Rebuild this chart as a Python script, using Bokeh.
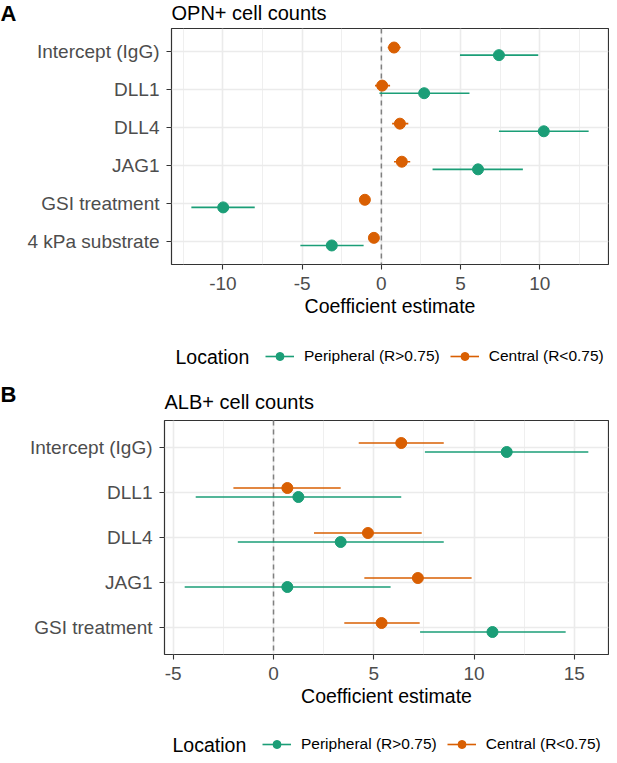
import numpy as np
from bokeh.plotting import figure
from bokeh.models import (Range1d, FixedTicker, Span, Label, Legend, LegendItem,
                          ColumnDataSource)
from bokeh.layouts import column
from bokeh.embed import file_html
from bokeh.resources import INLINE

# ---------------- data ----------------
# Panel A: OPN+ cell counts (categories listed top to bottom)
cats_a = ["Intercept (IgG)", "DLL1", "DLL4", "JAG1", "GSI treatment", "4 kPa substrate"]
periph_est_a = [7.42, 2.70, 10.25, 6.10, -9.98, -3.13]
periph_lo_a = [4.96, -0.12, 7.42, 3.23, -11.99, -5.11]
periph_hi_a = [9.90, 5.56, 13.08, 8.93, -7.99, -1.12]
central_est_a = [0.80, 0.05, 1.17, 1.29, -1.04, -0.47]
central_lo_a = [0.40, -0.40, 0.68, 0.80, -1.25, -0.72]
central_hi_a = [1.22, 0.55, 1.70, 1.82, -0.82, -0.22]
xticks_a = [-10, -5, 0, 5, 10]
xtick_labels_a = ["-10", "-5", "0", "5", "10"]

# Panel B: ALB+ cell counts
cats_b = ["Intercept (IgG)", "DLL1", "DLL4", "JAG1", "GSI treatment"]
periph_est_b = [11.63, 1.24, 3.35, 0.69, 10.92]
periph_lo_b = [7.55, -3.88, -1.78, -4.43, 7.31]
periph_hi_b = [15.70, 6.37, 8.49, 5.84, 14.57]
central_est_b = [6.37, 0.69, 4.71, 7.20, 5.39]
central_lo_b = [4.25, -2.00, 2.02, 4.53, 3.53]
central_hi_b = [8.49, 3.35, 7.39, 9.88, 7.29]
xticks_b = [-5, 0, 5, 10, 15]
xtick_labels_b = ["-5", "0", "5", "10", "15"]

ref_x = 0
series_names = ["Peripheral (R>0.75)", "Central (R<0.75)"]
legend_title = "Location"
x_title = "Coefficient estimate"

GREEN = "#1B9E77"
ORANGE = "#D95F02"
FONT = "Liberation Sans"
GRID = "#EBEBEB"
DARK = "#333333"
TXT = "#4D4D4D"
W = 609


def no_align(f):
    if "frame_align" in f.properties():
        f.frame_align = False


def blank_fig(h):
    f = figure(width=W, height=h, title=None, x_range=Range1d(1000, 1001),
               y_range=Range1d(1000, 1001), x_axis_location=None,
               y_axis_location=None, output_backend="svg", toolbar_location=None,
               min_border=0)
    f.outline_line_color = None
    f.grid.visible = False
    f.background_fill_color = "white"
    f.border_fill_color = "white"
    no_align(f)
    return f


def header(h, letter, letter_y, title, title_x, title_y):
    f = blank_fig(h)
    f.add_layout(Label(x=0, y=letter_y, x_units="screen", y_units="screen",
                       text=letter, text_font=FONT, text_font_size="22px",
                       text_font_style="bold", text_baseline="middle",
                       text_align="left", text_color="black"))
    f.add_layout(Label(x=title_x, y=title_y, x_units="screen", y_units="screen",
                       text=title, text_font=FONT, text_font_size="20px",
                       text_baseline="middle", text_align="left", text_color="black"))
    return f


def series_list(pe, pl, ph, ce, cl, ch):
    return [(series_names[0], pe, pl, ph, GREEN, -0.1),
            (series_names[1], ce, cl, ch, ORANGE, 0.1)]


def legend_fig(h, series, pos, leg_x, leg_y, loc_x):
    f = blank_fig(h)
    items = []
    for name, est, l, hi, col, off in series:
        src = ColumnDataSource(dict(y=pos + off, est=est, lo=l, hi=hi))
        seg = f.segment(x0="lo", y0="y", x1="hi", y1="y", source=src,
                        line_color=col, line_width=1.6)
        sc = f.scatter(x="est", y="y", source=src, size=11,
                       fill_color=col, line_color=col)
        items.append(LegendItem(label=name, renderers=[seg, sc]))
    leg = Legend(items=items, location=(leg_x, leg_y), orientation="horizontal",
                 glyph_width=29, glyph_height=20, label_height=20,
                 label_standoff=10, spacing=10, padding=0, margin=0,
                 label_text_font=FONT, label_text_font_size="15.5px",
                 label_text_color="black", border_line_color=None,
                 background_fill_alpha=0)
    f.add_layout(leg)
    f.add_layout(Label(x=loc_x, y=leg_y + 10, x_units="screen", y_units="screen",
                       text=legend_title, text_font=FONT, text_font_size="19.5px",
                       text_baseline="middle", text_align="left", text_color="black"))
    return f


def main_fig(cats, series, xticks, xlabels, frame_left, frame_h, bottom):
    n = len(cats)
    allv = np.array([v for s in series for v in (s[1] + s[2] + s[3])], dtype=float)
    lo, hi = allv.min(), allv.max()
    pad = 0.05 * (hi - lo)
    pos = np.arange(n, 0, -1)
    p = figure(width=W, height=1 + frame_h + bottom, title=None,
               x_range=Range1d(lo - pad, hi + pad), y_range=Range1d(0.4, n + 0.6),
               output_backend="svg", toolbar_location=None,
               min_border_left=frame_left, min_border_right=1,
               min_border_top=1, min_border_bottom=bottom)
    no_align(p)
    p.background_fill_color = "white"
    p.border_fill_color = "white"
    p.outline_line_color = DARK
    p.outline_line_width = 1.2

    step = xticks[1] - xticks[0]
    minors = [t - step / 2 for t in xticks] + [xticks[-1] + step / 2]
    p.xgrid.ticker = FixedTicker(ticks=xticks, minor_ticks=minors)
    p.xgrid.grid_line_color = GRID
    p.xgrid.grid_line_width = 1.6
    p.xgrid.minor_grid_line_color = GRID
    p.xgrid.minor_grid_line_width = 0.8
    p.ygrid.ticker = FixedTicker(ticks=[int(v) for v in pos])
    p.ygrid.grid_line_color = GRID
    p.ygrid.grid_line_width = 1.6

    p.xaxis.ticker = FixedTicker(ticks=xticks)
    p.xaxis.major_label_overrides = {int(t): s for t, s in zip(xticks, xlabels)}
    p.yaxis.ticker = FixedTicker(ticks=[int(v) for v in pos])
    p.yaxis.major_label_overrides = {int(v): c for v, c in zip(pos, cats)}
    for ax in (p.xaxis[0], p.yaxis[0]):
        ax.axis_line_color = None
        ax.major_tick_line_color = DARK
        ax.major_tick_line_width = 1.1
        ax.major_tick_out = 5
        ax.major_tick_in = 0
        ax.minor_tick_line_color = None
        ax.major_label_text_font = FONT
        ax.major_label_text_font_size = "19px"
        ax.major_label_text_color = TXT
    p.xaxis.major_label_standoff = 7
    p.yaxis.major_label_standoff = 7
    p.xaxis.axis_label = x_title
    p.xaxis.axis_label_text_font = FONT
    p.xaxis.axis_label_text_font_size = "19.5px"
    p.xaxis.axis_label_text_font_style = "normal"
    p.xaxis.axis_label_text_color = "black"
    p.xaxis.axis_label_standoff = 2

    p.add_layout(Span(location=ref_x, dimension="height", line_color="#808080",
                      line_width=1.5, line_dash="5 4", level="underlay"))

    for name, est, l, h, col, off in series:
        src = ColumnDataSource(dict(y=pos + off, est=est, lo=l, hi=h))
        p.segment(x0="lo", y0="y", x1="hi", y1="y", source=src,
                  line_color=col, line_width=1.6)
        p.scatter(x="est", y="y", source=src, size=11,
                  fill_color=col, line_color=col)
    return p, pos


ser_a = series_list(periph_est_a, periph_lo_a, periph_hi_a,
                    central_est_a, central_lo_a, central_hi_a)
ser_b = series_list(periph_est_b, periph_lo_b, periph_hi_b,
                    central_est_b, central_lo_b, central_hi_b)

hA = header(27, "A", 14, "OPN+ cell counts", 171, 15)
mA, posA = main_fig(cats_a, ser_a, xticks_a, xtick_labels_a, 171, 236, 62)
lA = legend_fig(50, ser_a, posA, 265, 10, 175)
hB = header(43, "B", 25, "ALB+ cell counts", 164, 18)
mB, posB = main_fig(cats_b, ser_b, xticks_b, xtick_labels_b, 164, 234, 62)
lB = legend_fig(39, ser_b, posB, 262, 1, 172)

layout = column(hA, mA, lA, hB, mB, lB, spacing=0)
open("out.html", "w").write(file_html(layout, INLINE))
